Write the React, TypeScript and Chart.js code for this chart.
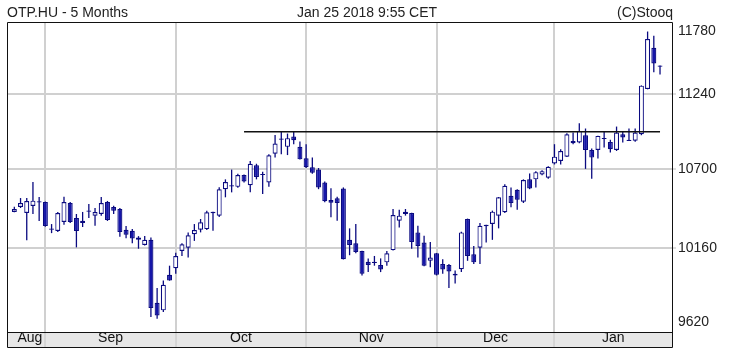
import React, { useEffect, useRef } from 'react';
import { Chart, registerables } from 'chart.js';

Chart.register(...registerables);

// ---- Data ----
const opens = [
  10405, 10439, 10398, 10446, 10470, 10473, 10293, 10276, 10337, 10466,
  10364, 10346, 10406, 10380, 10391, 10473, 10439, 10425, 10285, 10278,
  10217, 10183, 10217, 9806, 9757, 9986, 10029, 10143, 10165, 10255,
  10285, 10289, 10397, 10380, 10561, 10580, 10577, 10659, 10588, 10728,
  10667, 10607, 10809, 10908, 10857, 10931, 10857, 10776, 10714, 10697,
  10607, 10486, 10498, 10566, 10217, 10194, 10143, 10072, 10064, 10051,
  10068, 10149, 10346, 10391, 10398, 10267, 10199, 10078, 10128, 10057,
  10051, 9993, 10023, 10357, 10121, 10165, 10309, 10323, 10380, 10403,
  10516, 10557, 10475, 10629, 10629, 10663, 10641, 10740, 10757, 10788,
  10899, 10888, 10940, 10835, 10835, 10913, 10892, 10835, 10947, 10899,
  10900, 10947, 11275, 11583, 11440,
];
const highs = [
  10441, 10500, 10500, 10611, 10507, 10476, 10323, 10405, 10509, 10473,
  10391, 10405, 10459, 10432, 10507, 10480, 10448, 10432, 10310, 10289,
  10242, 10242, 10233, 9901, 9950, 10046, 10132, 10194, 10267, 10323,
  10357, 10414, 10406, 10575, 10629, 10697, 10668, 10663, 10757, 10738,
  10682, 10804, 10942, 10971, 10952, 10967, 10895, 10876, 10781, 10708,
  10614, 10568, 10509, 10573, 10294, 10323, 10145, 10094, 10110, 10094,
  10143, 10425, 10420, 10425, 10400, 10312, 10244, 10203, 10130, 10089,
  10057, 10014, 10271, 10360, 10176, 10330, 10318, 10414, 10507, 10595,
  10573, 10561, 10629, 10670, 10686, 10693, 10721, 10876, 10840, 10954,
  10959, 11026, 10988, 10845, 10937, 10964, 10907, 11002, 10971, 10988,
  10988, 11302, 11707, 11675, 11449,
];
const lows = [
  10403, 10432, 10214, 10391, 10344, 10305, 10262, 10269, 10319, 10330,
  10167, 10303, 10364, 10312, 10380, 10344, 10391, 10237, 10228, 10194,
  10158, 10180, 9714, 9703, 9747, 9948, 9993, 10110, 10100, 10210,
  10267, 10283, 10278, 10371, 10505, 10539, 10571, 10607, 10539, 10629,
  10527, 10577, 10781, 10804, 10799, 10876, 10767, 10709, 10668, 10561,
  10471, 10369, 10346, 10087, 10115, 10128, 9982, 10004, 10046, 10004,
  10046, 10147, 10300, 10380, 10158, 10100, 10042, 10036, 9982, 9993,
  9901, 9929, 10004, 10078, 10057, 10057, 10199, 10217, 10294, 10398,
  10437, 10420, 10466, 10561, 10573, 10657, 10634, 10733, 10733, 10786,
  10876, 10883, 10702, 10634, 10774, 10852, 10817, 10828, 10888, 10898,
  10893, 10940, 11273, 11400, 11383,
];
const closes = [
  10425, 10466, 10480, 10482, 10478, 10310, 10285, 10398, 10473, 10337,
  10276, 10330, 10415, 10405, 10466, 10351, 10414, 10269, 10251, 10226,
  10233, 10217, 9772, 9725, 9922, 9950, 10110, 10187, 10248, 10283,
  10335, 10403, 10406, 10561, 10611, 10588, 10659, 10614, 10738, 10645,
  10659, 10797, 10881, 10916, 10919, 10904, 10769, 10714, 10675, 10573,
  10478, 10468, 10466, 10089, 10183, 10136, 9993, 10051, 10072, 10021,
  10128, 10384, 10380, 10407, 10203, 10176, 10046, 10100, 9986, 10021,
  10008, 9982, 10267, 10110, 10068, 10312, 10318, 10407, 10505, 10584,
  10466, 10489, 10625, 10566, 10679, 10686, 10717, 10788, 10828, 10947,
  10883, 10971, 10835, 10781, 10935, 10921, 10840, 10959, 10924, 10908,
  10959, 11300, 11650, 11465, 11449,
];

const monthNames = ['Aug', 'Sep', 'Oct', 'Nov', 'Dec', 'Jan'];
const monthStartIdx = [0, 5, 26, 47, 68, 87];
const yTickLabels = [9620, 10160, 10700, 11240, 11780];
const yMin = 9620;
const yMax = 11780;
const resistanceLevel = 10964;
const resistanceFrom = 37;
const resistanceTo = 104;

const titleText = 'OTP.HU - 5 Months';
const stampText = 'Jan 25 2018 9:55 CET';
const creditText = '(C)Stooq';

// ---- Styles ----
const FONT = '"Liberation Sans", Arial, Helvetica, sans-serif';
const FILL = '#1515a8';
const OUTLINE = '#0a0a80';
const GRID = '#d0d0d0';
const STRIP = '#e7e7e7';

const framePlugin = {
  id: 'frame',
  afterDraw(chart: any) {
    const { ctx, chartArea } = chart;
    const xs = chart.scales.x;
    const l = Math.round(chartArea.left) + 0.5;
    const t = Math.round(chartArea.top) + 0.5;
    const r = Math.round(chartArea.right) + 0.5;
    const b = Math.round(chartArea.bottom) + 0.5;
    const sb = Math.round(xs.bottom) + 0.5;
    ctx.save();
    ctx.strokeStyle = '#111';
    ctx.lineWidth = 1;
    ctx.beginPath();
    ctx.moveTo(l, t);
    ctx.lineTo(r, t);
    ctx.lineTo(r, sb);
    ctx.lineTo(l, sb);
    ctx.closePath();
    ctx.moveTo(l, b);
    ctx.lineTo(r, b);
    ctx.stroke();
    ctx.restore();
  },
};

export default function App() {
  const ref = useRef<HTMLCanvasElement | null>(null);

  useEffect(() => {
    if (!ref.current) return;
    const xMin = -1.18;
    const xMax = 105.93;

    const bodies = opens.map((o, i) => ({ x: i, y: [o, closes[i]] }));
    const wicks = opens.map((_, i) => ({ x: i, y: [lows[i], highs[i]] }));
    const up = opens.map((o, i) => closes[i] >= o);

    const boundaries = monthStartIdx.slice(1);
    const centers = monthStartIdx.map((s, i) => {
      const e = i + 1 < monthStartIdx.length ? monthStartIdx[i + 1] : xMax;
      return (s + e) / 2;
    });
    const xTicks = [...boundaries, ...centers].sort((a, b) => a - b);
    const isBoundary = (v: any) => boundaries.includes(v);
    const centerLabel = (v: any) => {
      const k = centers.indexOf(v);
      return k >= 0 ? monthNames[k] : '';
    };

    const lnMin = Math.log(yMin);
    const lnMax = Math.log(yMax);
    const span = lnMax - lnMin;
    const yTickVals = yTickLabels.map((v, i) => {
      if (i === 0) return Math.exp(lnMin + span * (10 / 311));
      if (i === yTickLabels.length - 1) return Math.exp(lnMax - span * (9 / 311));
      return v;
    });
    const innerY = (i: number) => i > 0 && i < yTickLabels.length - 1;

    const chart = new Chart(ref.current, {
      type: 'bar',
      data: {
        datasets: [
          {
            type: 'line',
            data: [
              { x: resistanceFrom, y: resistanceLevel },
              { x: resistanceTo, y: resistanceLevel },
            ],
            borderColor: '#111',
            borderWidth: 1.5,
            pointRadius: 0,
            order: 0,
          } as any,
          {
            data: bodies,
            backgroundColor: (c: any) => (up[c.dataIndex] ? '#ffffff' : FILL),
            borderColor: OUTLINE,
            borderWidth: 1.2,
            borderSkipped: false,
            barThickness: 5,
            grouped: false,
            inflateAmount: 0,
            order: 1,
          } as any,
          {
            data: wicks,
            backgroundColor: OUTLINE,
            borderWidth: 0,
            barThickness: 1.3,
            grouped: false,
            inflateAmount: 0,
            order: 2,
          } as any,
        ],
      },
      options: {
        responsive: true,
        maintainAspectRatio: false,
        animation: false,
        layout: { padding: { left: 7, top: 22, right: 0, bottom: 4 } },
        plugins: {
          legend: { display: false },
          tooltip: { enabled: false },
          title: { display: false },
        },
        scales: {
          x: {
            type: 'linear',
            position: 'bottom',
            min: xMin,
            max: xMax,
            offset: false,
            bounds: 'data',
            backgroundColor: STRIP,
            border: { display: false },
            grid: {
              offset: false,
              color: (c: any) => (isBoundary(c.tick?.value) ? GRID : 'rgba(0,0,0,0)'),
              tickColor: (c: any) => (isBoundary(c.tick?.value) ? '#c4c4c4' : 'rgba(0,0,0,0)'),
              lineWidth: 2,
              tickWidth: 1,
              drawTicks: true,
              tickLength: 15,
            },
            ticks: {
              autoSkip: false,
              maxRotation: 0,
              minRotation: 0,
              padding: -17,
              color: '#111',
              font: { family: FONT, size: 14 },
              callback: (v: any) => centerLabel(v),
            },
            afterBuildTicks: (s: any) => {
              s.ticks = xTicks.map((v) => ({ value: v }));
            },
            afterFit: (s: any) => {
              s.height = 15;
            },
          } as any,
          y: {
            type: 'logarithmic',
            position: 'right',
            min: yMin,
            max: yMax,
            bounds: 'data',
            border: { display: false },
            grid: {
              color: (c: any) => (innerY(c.index) ? GRID : 'rgba(0,0,0,0)'),
              tickColor: (c: any) => (innerY(c.index) ? '#bbbbbb' : 'rgba(0,0,0,0)'),
              lineWidth: 2,
              tickWidth: 1,
              drawTicks: true,
              tickLength: 4,
            },
            ticks: {
              padding: 2,
              color: '#222',
              font: { family: FONT, size: 14 },
              callback: (_v: any, i: number) => String(yTickLabels[i]),
            },
            afterBuildTicks: (s: any) => {
              s.ticks = yTickVals.map((v) => ({ value: v }));
            },
            afterFit: (s: any) => {
              s.width = 57;
            },
          } as any,
        },
      },
      plugins: [framePlugin],
    });
    return () => chart.destroy();
  }, []);

  const head: React.CSSProperties = {
    position: 'absolute',
    top: 4,
    fontFamily: FONT,
    fontSize: 14,
    lineHeight: '16px',
    color: '#222',
    whiteSpace: 'nowrap',
  };

  return (
    <div style={{ position: 'relative', width: 729, height: 351, background: '#fff' }}>
      <style>{'body{margin:0;background:#fff}'}</style>
      <canvas ref={ref} />
      <div style={{ ...head, left: 7 }}>{titleText}</div>
      <div style={{ ...head, left: 297 }}>{stampText}</div>
      <div style={{ ...head, right: 56 }}>{creditText}</div>
    </div>
  );
}
